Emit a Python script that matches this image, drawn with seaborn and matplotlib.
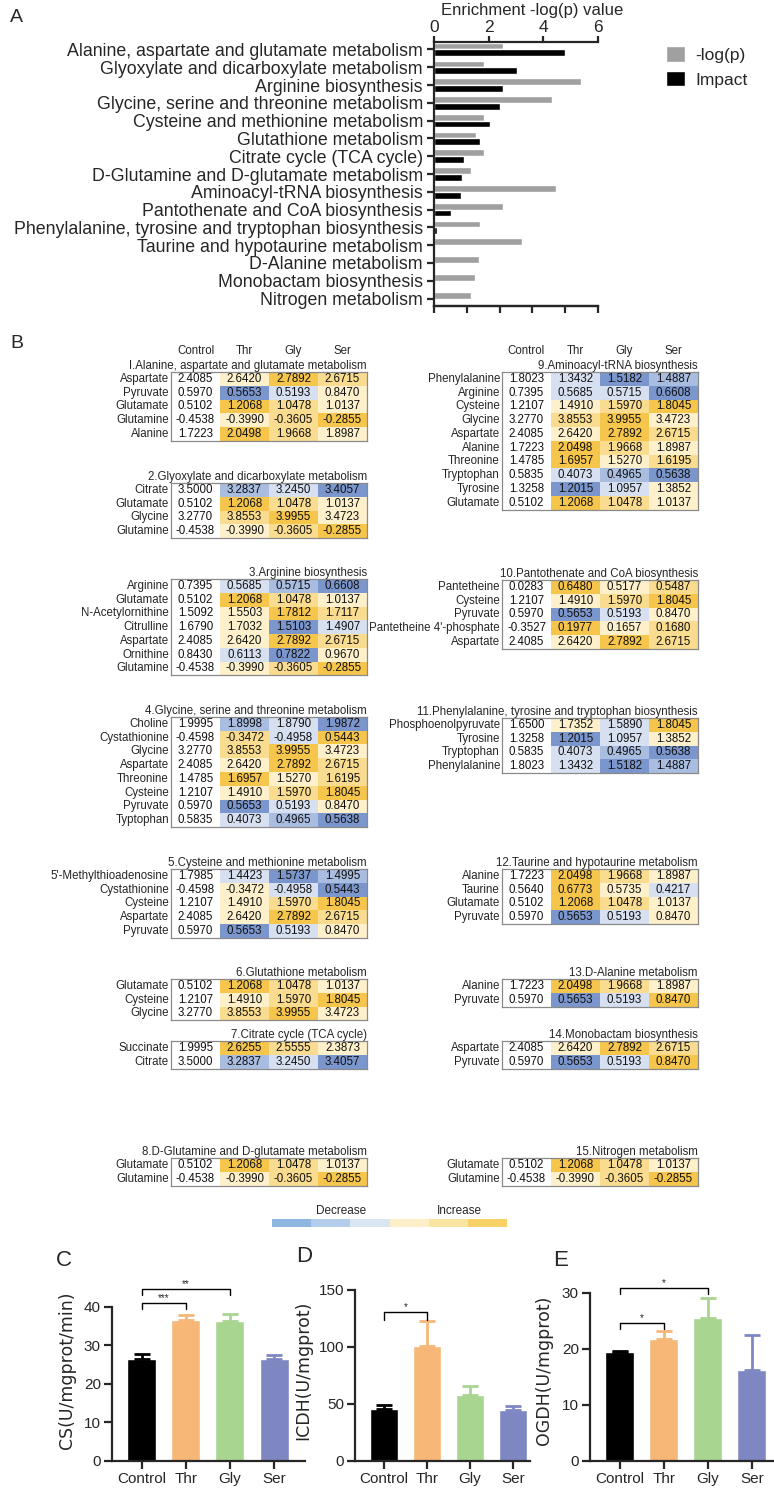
import numpy as np
import pandas as pd
import matplotlib
matplotlib.use("Agg")
import matplotlib.pyplot as plt
import seaborn as sns
from matplotlib import font_manager
from matplotlib.colors import ListedColormap

W, H = 774, 1488

# ---------------- panel A: pathway enrichment ----------------
pathways = [
    "Alanine, aspartate and glutamate metabolism",
    "Glyoxylate and dicarboxylate metabolism",
    "Arginine biosynthesis",
    "Glycine, serine and threonine metabolism",
    "Cysteine and methionine metabolism",
    "Glutathione metabolism",
    "Citrate cycle (TCA cycle)",
    "D-Glutamine and D-glutamate metabolism",
    "Aminoacyl-tRNA biosynthesis",
    "Pantothenate and CoA biosynthesis",
    "Phenylalanine, tyrosine and tryptophan biosynthesis",
    "Taurine and hypotaurine metabolism",
    "D-Alanine metabolism",
    "Monobactam biosynthesis",
    "Nitrogen metabolism",
]
neg_log_p = [2.51, 1.83, 5.37, 4.33, 1.84, 1.54, 1.83, 1.35, 4.48, 2.51, 1.67, 3.21, 1.63, 1.51, 1.35]
impact = [4.79, 3.02, 2.54, 2.43, 2.06, 1.67, 1.08, 1.03, 1.00, 0.63, 0.11, 0, 0, 0, 0]

# ---------------- panel B: metabolite tables ----------------
t1_title = "I.Alanine, aspartate and glutamate metabolism"
t1_rows = ["Aspartate", "Pyruvate", "Glutamate", "Glutamine", "Alanine"]
t1_vals = [[2.4085, 2.6420, 2.7892, 2.6715], [0.5970, 0.5653, 0.5193, 0.8470],
           [0.5102, 1.2068, 1.0478, 1.0137], [-0.4538, -0.3990, -0.3605, -0.2855],
           [1.7223, 2.0498, 1.9668, 1.8987]]
t1_lvls = [[1, 3, 2], [-3, -1, 1], [3, 2, 1], [1, 2, 3], [3, 2, 1]]

t2_title = "2.Glyoxylate and dicarboxylate metabolism"
t2_rows = ["Citrate", "Glutamate", "Glycine", "Glutamine"]
t2_vals = [[3.5000, 3.2837, 3.2450, 3.4057], [0.5102, 1.2068, 1.0478, 1.0137],
           [3.2770, 3.8553, 3.9955, 3.4723], [-0.4538, -0.3990, -0.3605, -0.2855]]
t2_lvls = [[-2, -1, -3], [3, 2, 1], [2, 3, 1], [1, 2, 3]]

t3_title = "3.Arginine biosynthesis"
t3_rows = ["Arginine", "Glutamate", "N-Acetylornithine", "Citrulline", "Aspartate", "Ornithine", "Glutamine"]
t3_vals = [[0.7395, 0.5685, 0.5715, 0.6608], [0.5102, 1.2068, 1.0478, 1.0137],
           [1.5092, 1.5503, 1.7812, 1.7117], [1.6790, 1.7032, 1.5103, 1.4907],
           [2.4085, 2.6420, 2.7892, 2.6715], [0.8430, 0.6113, 0.7822, 0.9670],
           [-0.4538, -0.3990, -0.3605, -0.2855]]
t3_lvls = [[-1, -2, -3], [3, 2, 1], [1, 3, 2], [1, -3, -1], [1, 3, 2], [-1, -3, 1], [1, 2, 3]]

t4_title = "4.Glycine, serine and threonine metabolism"
t4_rows = ["Choline", "Cystathionine", "Glycine", "Aspartate", "Threonine", "Cysteine", "Pyruvate", "Typtophan"]
t4_vals = [[1.9995, 1.8998, 1.8790, 1.9872], [-0.4598, -0.3472, -0.4958, 0.5443],
           [3.2770, 3.8553, 3.9955, 3.4723], [2.4085, 2.6420, 2.7892, 2.6715],
           [1.4785, 1.6957, 1.5270, 1.6195], [1.2107, 1.4910, 1.5970, 1.8045],
           [0.5970, 0.5653, 0.5193, 0.8470], [0.5835, 0.4073, 0.4965, 0.5638]]
t4_lvls = [[-2, -1, -3], [2, -1, 3], [2, 3, 1], [1, 3, 2], [3, 1, 2], [1, 2, 3], [-3, -1, 1], [-1, -2, -3]]

t5_title = "5.Cysteine and methionine metabolism"
t5_rows = ["5'-Methylthioadenosine", "Cystathionine", "Cysteine", "Aspartate", "Pyruvate"]
t5_vals = [[1.7985, 1.4423, 1.5737, 1.4995], [-0.4598, -0.3472, -0.4958, 0.5443],
           [1.2107, 1.4910, 1.5970, 1.8045], [2.4085, 2.6420, 2.7892, 2.6715],
           [0.5970, 0.5653, 0.5193, 0.8470]]
t5_lvls = [[-1, -3, -2], [1, -1, -3], [1, 2, 3], [1, 3, 2], [-3, -1, 1]]

t6_title = "6.Glutathione metabolism"
t6_rows = ["Glutamate", "Cysteine", "Glycine"]
t6_vals = [[0.5102, 1.2068, 1.0478, 1.0137], [1.2107, 1.4910, 1.5970, 1.8045],
           [3.2770, 3.8553, 3.9955, 3.4723]]
t6_lvls = [[3, 2, 1], [1, 2, 3], [2, 3, 1]]

t7_title = "7.Citrate cycle (TCA cycle)"
t7_rows = ["Succinate", "Citrate"]
t7_vals = [[1.9995, 2.6255, 2.5555, 2.3873], [3.5000, 3.2837, 3.2450, 3.4057]]
t7_lvls = [[3, 2, 1], [-2, -1, -3]]

t8_title = "8.D-Glutamine and D-glutamate metabolism"
t8_rows = ["Glutamate", "Glutamine"]
t8_vals = [[0.5102, 1.2068, 1.0478, 1.0137], [-0.4538, -0.3990, -0.3605, -0.2855]]
t8_lvls = [[3, 2, 1], [1, 2, 3]]

t9_title = "9.Aminoacyl-tRNA biosynthesis"
t9_rows = ["Phenylalanine", "Arginine", "Cysteine", "Glycine", "Aspartate", "Alanine",
           "Threonine", "Tryptophan", "Tyrosine", "Glutamate"]
t9_vals = [[1.8023, 1.3432, 1.5182, 1.4887], [0.7395, 0.5685, 0.5715, 0.6608],
           [1.2107, 1.4910, 1.5970, 1.8045], [3.2770, 3.8553, 3.9955, 3.4723],
           [2.4085, 2.6420, 2.7892, 2.6715], [1.7223, 2.0498, 1.9668, 1.8987],
           [1.4785, 1.6957, 1.5270, 1.6195], [0.5835, 0.4073, 0.4965, 0.5638],
           [1.3258, 1.2015, 1.0957, 1.3852], [0.5102, 1.2068, 1.0478, 1.0137]]
t9_lvls = [[-1, -3, -2], [-1, -1, -3], [1, 2, 3], [2, 3, 1], [1, 3, 2], [3, 2, 1],
           [3, 1, 2], [-1, -2, -3], [-3, -1, 1], [3, 2, 1]]

t10_title = "10.Pantothenate and CoA biosynthesis"
t10_rows = ["Pantetheine", "Cysteine", "Pyruvate", "Pantetheine 4'-phosphate", "Aspartate"]
t10_vals = [[0.0283, 0.6480, 0.5177, 0.5487], [1.2107, 1.4910, 1.5970, 1.8045],
            [0.5970, 0.5653, 0.5193, 0.8470], [-0.3527, 0.1977, 0.1657, 0.1680],
            [2.4085, 2.6420, 2.7892, 2.6715]]
t10_lvls = [[3, 1, 2], [1, 2, 3], [-3, -1, 1], [3, 1, 2], [1, 3, 2]]

t11_title = "11.Phenylalanine, tyrosine and tryptophan biosynthesis"
t11_rows = ["Phosphoenolpyruvate", "Tyrosine", "Tryptophan", "Phenylalanine"]
t11_vals = [[1.6500, 1.7352, 1.5890, 1.8045], [1.3258, 1.2015, 1.0957, 1.3852],
            [0.5835, 0.4073, 0.4965, 0.5638], [1.8023, 1.3432, 1.5182, 1.4887]]
t11_lvls = [[1, -1, 3], [-3, -1, 1], [-1, -2, -3], [-1, -3, -2]]

t12_title = "12.Taurine and hypotaurine metabolism"
t12_rows = ["Alanine", "Taurine", "Glutamate", "Pyruvate"]
t12_vals = [[1.7223, 2.0498, 1.9668, 1.8987], [0.5640, 0.6773, 0.5735, 0.4217],
            [0.5102, 1.2068, 1.0478, 1.0137], [0.5970, 0.5653, 0.5193, 0.8470]]
t12_lvls = [[3, 2, 1], [3, 1, -1], [3, 2, 1], [-3, -1, 1]]

t13_title = "13.D-Alanine metabolism"
t13_rows = ["Alanine", "Pyruvate"]
t13_vals = [[1.7223, 2.0498, 1.9668, 1.8987], [0.5970, 0.5653, 0.5193, 0.8470]]
t13_lvls = [[3, 2, 1], [-3, -1, 3]]

t14_title = "14.Monobactam biosynthesis"
t14_rows = ["Aspartate", "Pyruvate"]
t14_vals = [[2.4085, 2.6420, 2.7892, 2.6715], [0.5970, 0.5653, 0.5193, 0.8470]]
t14_lvls = [[1, 3, 2], [-3, -1, 3]]

t15_title = "15.Nitrogen metabolism"
t15_rows = ["Glutamate", "Glutamine"]
t15_vals = [[0.5102, 1.2068, 1.0478, 1.0137], [-0.4538, -0.3990, -0.3605, -0.2855]]
t15_lvls = [[3, 2, 1], [1, 2, 3]]

table_cols = ["Control", "Thr", "Gly", "Ser"]

# ---------------- panels C-E: enzyme activity ----------------
groups = ["Control", "Thr", "Gly", "Ser"]
group_colors = ["#000000", "#f6b777", "#a8d58f", "#7f87c3"]
cs_mean = [26.5, 36.7, 36.4, 26.6]
cs_err = [1.4, 1.1, 1.9, 0.8]
icdh_mean = [45.7, 101.0, 57.7, 44.6]
icdh_err = [3.8, 21.9, 7.8, 3.4]
ogdh_mean = [19.4, 21.7, 25.6, 16.2]
ogdh_err = [0.3, 1.5, 3.5, 6.3]
cs_sig = [(1, "***", 41.0), (2, "**", 44.6)]
icdh_sig = [(1, "*", 130.5)]
ogdh_sig = [(1, "*", 24.7), (2, "*", 30.9)]

# ---------------- styling ----------------
sns.set_style("ticks")
installed = {f.name for f in font_manager.fontManager.ttflist}
arial = "Liberation Sans" if "Liberation Sans" in installed else "DejaVu Sans"
plt.rcParams["font.family"] = [arial, "DejaVu Sans"]

lvl_colors = ["#7b96cc", "#a9bde1", "#d7e0f1", "#ffffff", "#fdf0cb", "#f9dc8f", "#f5c54c"]
level_cmap = ListedColormap(lvl_colors)
legend_colors = ["#8db6e0", "#b3cdea", "#dbe6f4", "#fdf0c9", "#fbe3a2", "#f8d266"]

fig = plt.figure(figsize=(W / 100, H / 100), dpi=100)


def px_axes(left, top, right, bottom):
    return fig.add_axes([left / W, 1 - bottom / H, (right - left) / W, (bottom - top) / H])


# ---- A ----
axA = px_axes(434, 42, 598, 306)
dfA = pd.DataFrame({
    "pathway": pathways * 2,
    "value": neg_log_p + impact,
    "metric": ["-log(p)"] * len(pathways) + ["Impact"] * len(pathways),
})
sns.barplot(data=dfA, x="value", y="pathway", hue="metric", palette=["#a0a0a0", "#000000"],
            orient="h", width=0.76, saturation=1, ax=axA)
axA.set_xlim(0, 6)
axA.set_ylim(14.42, -0.42)
axA.xaxis.tick_top()
axA.set_xticks([0, 2, 4, 6])
axA.set_xlabel("")
axA.set_ylabel("")
axA.spines["right"].set_visible(False)
for s in ["top", "left", "bottom"]:
    axA.spines[s].set_linewidth(1.6)
axA.tick_params(axis="x", width=1.6, length=4, labelsize=12.5, pad=1)
axA.tick_params(axis="y", width=1.6, length=5, pad=3, labelsize=12.8)
sec = axA.secondary_xaxis("bottom")
sec.set_xticks(np.linspace(0, 6, 6))
sec.set_xticklabels([])
sec.tick_params(width=1.6, length=5)
sec.spines["bottom"].set_linewidth(1.6)
sns.move_legend(axA, "upper left", bbox_to_anchor=(1.37, 1.01), frameon=False, title=None,
                handlelength=1.1, handleheight=1.0, labelspacing=0.45,
                borderaxespad=0, handletextpad=0.6, fontsize=12.5)
fig.text(532 / W, 1 - 10 / H, "Enrichment -log(p) value", ha="center", va="center", fontsize=12)
fig.text(10 / W, 1 - 17 / H, "A", ha="left", va="center", fontsize=14)

# ---- B ----
ROW_H = 13.75
TAB_W = 196


def draw_table(left, top, title, rows, vals, lvls):
    n = len(rows)
    ax = px_axes(left, top, left + TAB_W, top + n * ROW_H)
    levels = np.column_stack([np.zeros(n), np.array(lvls)])
    sns.heatmap(levels, annot=np.array(vals), fmt=".4f", cmap=level_cmap, vmin=-3.5, vmax=3.5,
                cbar=False, xticklabels=False, yticklabels=rows,
                annot_kws={"fontsize": 8.3, "color": "#111111"}, ax=ax)
    ax.set_yticklabels(rows, rotation=0, fontsize=8.3)
    ax.tick_params(axis="y", length=0, pad=1.5)
    for s in ax.spines.values():
        s.set_visible(True)
        s.set_color("#8a8a8a")
        s.set_linewidth(0.9)
    ax.set_title(title, loc="right", fontsize=8.3, pad=1.5)
    return ax


left_x, right_x = 171, 502
draw_table(left_x, 372, t1_title, t1_rows, t1_vals, t1_lvls)
draw_table(left_x, 483, t2_title, t2_rows, t2_vals, t2_lvls)
draw_table(left_x, 579, t3_title, t3_rows, t3_vals, t3_lvls)
draw_table(left_x, 717, t4_title, t4_rows, t4_vals, t4_lvls)
draw_table(left_x, 869, t5_title, t5_rows, t5_vals, t5_lvls)
draw_table(left_x, 979, t6_title, t6_rows, t6_vals, t6_lvls)
draw_table(left_x, 1041, t7_title, t7_rows, t7_vals, t7_lvls)
draw_table(left_x, 1158, t8_title, t8_rows, t8_vals, t8_lvls)
draw_table(right_x, 372, t9_title, t9_rows, t9_vals, t9_lvls)
draw_table(right_x, 580, t10_title, t10_rows, t10_vals, t10_lvls)
draw_table(right_x, 718, t11_title, t11_rows, t11_vals, t11_lvls)
draw_table(right_x, 869, t12_title, t12_rows, t12_vals, t12_lvls)
draw_table(right_x, 979, t13_title, t13_rows, t13_vals, t13_lvls)
draw_table(right_x, 1041, t14_title, t14_rows, t14_vals, t14_lvls)
draw_table(right_x, 1158, t15_title, t15_rows, t15_vals, t15_lvls)

for x0 in (left_x, right_x):
    for i, c in enumerate(table_cols):
        fig.text((x0 + TAB_W / 8 * (2 * i + 1)) / W, 1 - 351 / H, c, ha="center", va="center", fontsize=8.3)
fig.text(10 / W, 1 - 343 / H, "B", ha="left", va="center", fontsize=14)

# colour key
axK = px_axes(272, 1219, 507, 1227)
sns.heatmap([list(range(6))], cmap=ListedColormap(legend_colors), cbar=False,
            xticklabels=False, yticklabels=False, ax=axK)
fig.text(341 / W, 1 - 1211 / H, "Decrease", ha="center", va="center", fontsize=8.5)
fig.text(459 / W, 1 - 1211 / H, "Increase", ha="center", va="center", fontsize=8.5)


# ---- C, D, E ----
def enzyme_panel(left, right, xmax, ytop, yticks, means, errs, sigs, drop, ylabel, label_x):
    ax = px_axes(left, 1280, right, 1461)
    dfe = pd.DataFrame({"group": groups, "value": means})
    sns.barplot(data=dfe, x="group", y="value", hue="group", palette=group_colors,
                width=0.66, saturation=1, legend=False, ax=ax)
    for i, (m, e) in enumerate(zip(means, errs)):
        ax.errorbar(i, m, yerr=[[0], [e]], fmt="none", ecolor=group_colors[i],
                    elinewidth=2, capsize=6, capthick=2)
    for j, star, yb in sigs:
        ax.plot([0, 0, j, j], [yb - drop, yb, yb, yb - drop], color="black", lw=1)
        ax.text(j / 2, yb, star, ha="center", va="bottom", fontsize=7)
    ax.set_xlim(-0.67, xmax)
    ax.set_ylim(0, ytop)
    ax.set_yticks(yticks)
    ax.spines["left"].set_bounds(0, yticks[-1])
    sns.despine(ax=ax)
    for s in ["left", "bottom"]:
        ax.spines[s].set_linewidth(1.6)
    ax.tick_params(width=1.6, length=6, labelsize=11, pad=2)
    ax.set_xlabel("")
    ax.set_ylabel(ylabel, fontsize=12.5, family="DejaVu Sans")
    ax.yaxis.set_label_coords((label_x - left) / (right - left), 0.5)
    return ax


enzyme_panel(112, 305, 3.7, 47.0, [0, 10, 20, 30, 40], cs_mean, cs_err, cs_sig, 1.5,
             "CS(U/mgprot/min)", 76)
enzyme_panel(355, 530, 3.4, 158.7, [0, 50, 100, 150], icdh_mean, icdh_err, icdh_sig, 6.7,
             "ICDH(U/mgprot)", 312)
enzyme_panel(590, 774, 3.5, 32.3, [0, 10, 20, 30], ogdh_mean, ogdh_err, ogdh_sig, 1.1,
             "OGDH(U/mgprot)", 553)
fig.text(64 / W, 1 - 1260 / H, "C", ha="center", va="center", fontsize=16)
fig.text(304 / W, 1 - 1257 / H, "D", ha="center", va="center", fontsize=16)
fig.text(561 / W, 1 - 1260 / H, "E", ha="center", va="center", fontsize=16)

fig.savefig("out.png", dpi=100)
